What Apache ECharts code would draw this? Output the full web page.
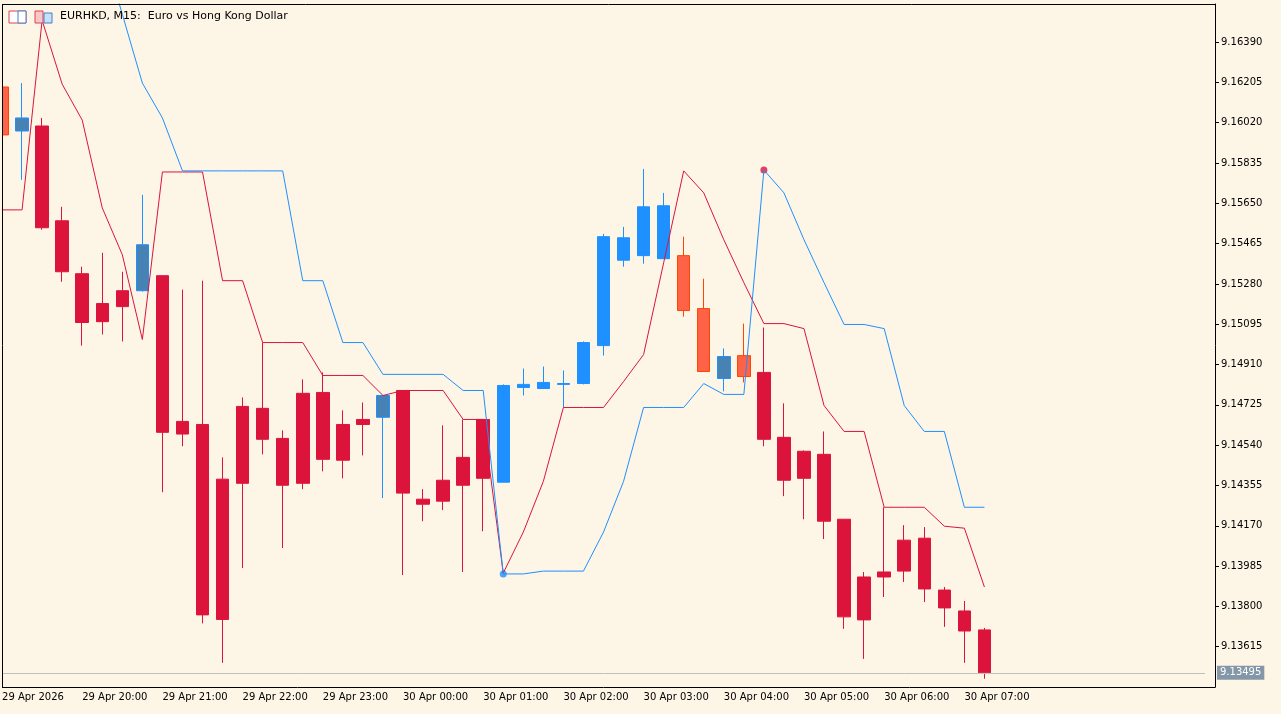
<!DOCTYPE html>
<html lang="en">
<head>
<meta charset="UTF-8">
<title>EURHKD M15</title>
<script src="https://cdn.jsdelivr.net/npm/echarts@6/dist/echarts.min.js"></script>
<style>
  html, body { margin: 0; padding: 0; background: #FDF5E6; overflow: hidden; }
  /* shifted 8px left so the first bar sits half outside the frame, as in the terminal */
  #main { position: absolute; left: -8px; top: 0; width: 1289px; height: 714px; }
</style>
</head>
<body>
<div id="main"></div>
<script>
// 15 minute bars, 29 Apr 19:00 .. 30 Apr 07:15 (plus empty space on the right)
const times = [];
for (let i = 0; i < 61; i++) {
  const m = 19 * 60 + i * 15;
  const h = Math.floor(m / 60) % 24, mm = m % 60;
  times.push((m < 24 * 60 ? '29 Apr ' : '30 Apr ') + String(h).padStart(2, '0') + ':' + String(mm).padStart(2, '0'));
}
// tick labels, one every 4 bars
const tickLabels = ['29 Apr 2026', '29 Apr 20:00', '29 Apr 21:00', '29 Apr 22:00', '29 Apr 23:00',
  '30 Apr 00:00', '30 Apr 01:00', '30 Apr 02:00', '30 Apr 03:00', '30 Apr 04:00',
  '30 Apr 05:00', '30 Apr 06:00', '30 Apr 07:00'];

const opens  = [9.16184, 9.15982, 9.16005, 9.15570, 9.15327, 9.15190, 9.15249, 9.15249, 9.15318, 9.14649,
  9.14635, 9.14384, 9.14718, 9.14709, 9.14571, 9.14778, 9.14782, 9.14635, 9.14658, 9.14668,
  9.14791, 9.14292, 9.14379, 9.14484, 9.14658, 9.14370, 9.14805, 9.14800, 9.14819, 9.14823,
  9.14997, 9.15389, 9.15410, 9.15396, 9.15410, 9.15167, 9.14846, 9.14951, 9.14874, 9.14576,
  9.14512, 9.14498, 9.14200, 9.13935, 9.13958, 9.14104, 9.14113, 9.13875, 9.13779, 9.13692];
const closes = [9.15964, 9.16042, 9.15538, 9.15336, 9.15103, 9.15107, 9.15176, 9.15460, 9.14599, 9.14591,
  9.13761, 9.13740, 9.14365, 9.14567, 9.14356, 9.14365, 9.14475, 9.14471, 9.14635, 9.14768,
  9.14320, 9.14269, 9.14283, 9.14356, 9.14388, 9.14814, 9.14819, 9.14828, 9.14823, 9.15011,
  9.15497, 9.15492, 9.15634, 9.15639, 9.15158, 9.14878, 9.14947, 9.14855, 9.14567, 9.14379,
  9.14388, 9.14191, 9.13752, 9.13738, 9.13935, 9.13962, 9.13880, 9.13793, 9.13687, 9.13495];
const lows   = [9.15941, 9.15758, 9.15529, 9.15290, 9.14997, 9.15048, 9.15016, 9.15245, 9.14324, 9.14535,
  9.13722, 9.13541, 9.13976, 9.14498, 9.14068, 9.14338, 9.14420, 9.14388, 9.14493, 9.14297,
  9.13944, 9.14191, 9.14242, 9.13958, 9.14145, 9.14370, 9.14768, 9.14800, 9.14713, 9.14819,
  9.14951, 9.15359, 9.15373, 9.15396, 9.15130, 9.14878, 9.14787, 9.14828, 9.14535, 9.14306,
  9.14200, 9.14109, 9.13697, 9.13559, 9.13843, 9.13912, 9.13820, 9.13706, 9.13541, 9.13468];
const highs  = [9.16193, 9.16202, 9.16042, 9.15634, 9.15359, 9.15423, 9.15336, 9.15689, 9.15318, 9.15254,
  9.15295, 9.14484, 9.14759, 9.15011, 9.14608, 9.14842, 9.14874, 9.14700, 9.14736, 9.14768,
  9.14791, 9.14338, 9.14631, 9.14658, 9.14658, 9.14819, 9.14892, 9.14901, 9.14883, 9.15016,
  9.15510, 9.15542, 9.15808, 9.15698, 9.15497, 9.15304, 9.14984, 9.15098, 9.15080, 9.14732,
  9.14516, 9.14603, 9.14200, 9.13958, 9.14255, 9.14173, 9.14164, 9.13889, 9.13825, 9.13701];
// candle colour kind: r = down, b = up, s = up (steel), t = down (tomato)
const kinds = ['t', 's', 'r', 'r', 'r', 'r', 'r', 's', 'r', 'r',
  'r', 'r', 'r', 'r', 'r', 'r', 'r', 'r', 'r', 's',
  'r', 'r', 'r', 'r', 'r', 'b', 'b', 'b', 'b', 'b',
  'b', 'b', 'b', 'b', 't', 't', 's', 't', 'r', 'r',
  'r', 'r', 'r', 'r', 'r', 'r', 'r', 'r', 'r', 'r'];

const redLine = [9.15620, 9.15620, 9.16490, 9.16197, 9.16032, 9.15629, 9.15414, 9.15025, 9.15794, 9.15794,
  9.15794, 9.15295, 9.15295, 9.15011, 9.15011, 9.15011, 9.14860, 9.14860, 9.14860, 9.14768,
  9.14791, 9.14791, 9.14791, 9.14658, 9.14658, 9.13953, 9.14141, 9.14374, 9.14713, 9.14713,
  9.14713, 9.14832, 9.14956, 9.15377, 9.15799, 9.15698, 9.15483, 9.15286, 9.15098, 9.15098,
  9.15075, 9.14722, 9.14603, 9.14603, 9.14255, 9.14255, 9.14255, 9.14168, 9.14159, 9.13889];
const blueLine = [null, null, null, null, null, 9.16834, 9.16518, 9.16202, 9.16042, 9.15799,
  9.15799, 9.15799, 9.15799, 9.15799, 9.15799, 9.15295, 9.15295, 9.15011, 9.15011, 9.14865,
  9.14865, 9.14865, 9.14865, 9.14791, 9.14791, 9.13949, 9.13949, 9.13962, 9.13962, 9.13962,
  9.14141, 9.14374, 9.14713, 9.14713, 9.14713, 9.14823, 9.14773, 9.14773, 9.15803, 9.15698,
  9.15483, 9.15286, 9.15094, 9.15094, 9.15075, 9.14722, 9.14603, 9.14603, 9.14255, 9.14255];
const blueDot = [25, 9.13949];
const redDot = [38, 9.15803];
const lastPrice = 9.13495;

const bodyCol = { r: '#DC143C', b: '#1E90FF', s: '#4682B4', t: '#FF6347' };
const edgeCol = { r: '#DC143C', b: '#1E90FF', s: '#1E90FF', t: '#FF4500' };

const candles = opens.map(function (o, i) {
  const k = kinds[i];
  return {
    value: [o, closes[i], lows[i], highs[i]],
    itemStyle: { color: bodyCol[k], color0: bodyCol[k], borderColor: edgeCol[k], borderColor0: edgeCol[k] }
  };
});

const myChart = echarts.init(document.getElementById('main'));
const font = 'DejaVu Sans';
const X = 8; // page x -> chart x offset
const option = {
  backgroundColor: '#FDF5E6',
  animation: false,
  grid: { left: 0, right: 66, top: 4, bottom: 27 },
  xAxis: {
    type: 'category',
    data: times,
    boundaryGap: true,
    axisLine: { lineStyle: { color: '#000', width: 1 } },
    axisTick: { alignWithLabel: true, length: 4, lineStyle: { color: '#000' },
      interval: function (i) { return i % 4 === 0; } },
    axisLabel: {
      interval: function (i) { return i % 4 === 0 && i / 4 < tickLabels.length; },
      formatter: function (v, i) { return tickLabels[i / 4] || ''; },
      align: 'left', margin: 5, color: '#000', fontFamily: font, fontSize: 10
    },
    splitLine: { show: false }
  },
  yAxis: {
    type: 'value',
    position: 'right',
    min: 9.13430, max: 9.16565, interval: 0.00185,
    axisLine: { show: true, lineStyle: { color: '#000' } },
    axisTick: { show: true, length: 4, lineStyle: { color: '#000' } },
    axisLabel: {
      showMinLabel: false, showMaxLabel: false, margin: 6,
      formatter: function (v) { return v.toFixed(5); },
      color: '#000', fontFamily: font, fontSize: 10
    },
    splitLine: { show: false }
  },
  series: [
    {
      type: 'line', data: [], symbol: 'none', silent: true, z: 1,
      markLine: {
        symbol: ['none', 'none'], silent: true, animation: false,
        data: [[{ coord: [0, lastPrice] }, { coord: [60, lastPrice] }]],
        lineStyle: { color: '#C0C0C0', type: 'solid', width: 1 },
        label: { show: true, position: 'end', distance: 12, formatter: lastPrice.toFixed(5), color: '#fff',
          backgroundColor: '#8497A8', padding: [2, 3], fontFamily: font, fontSize: 10 }
      }
    },
    { type: 'candlestick', data: candles, barWidth: 13, clip: true },
    { type: 'line', data: redLine, symbol: 'none', lineStyle: { color: '#DC143C', width: 1 }, clip: true },
    { type: 'line', data: blueLine, symbol: 'none', lineStyle: { color: '#1E90FF', width: 1 }, clip: true },
    { type: 'scatter', data: [blueDot], symbolSize: 7, itemStyle: { color: '#1E90FF' } },
    { type: 'scatter', data: [redDot], symbolSize: 7, itemStyle: { color: '#DC143C' } }
  ],
  graphic: [
    { type: 'rect', shape: { x: 0, y: 0, width: X + 2, height: 714 }, style: { fill: '#FDF5E6' }, z: 50 },
    { type: 'line', shape: { x1: X + 2.5, y1: 4, x2: X + 2.5, y2: 687 }, style: { stroke: '#000', lineWidth: 1 }, z: 51 },
    { type: 'line', shape: { x1: X + 2, y1: 4.5, x2: X + 1215, y2: 4.5 }, style: { stroke: '#000', lineWidth: 1 }, z: 51 },
    { type: 'rect', shape: { x: X + 9, y: 11, width: 17, height: 12 }, style: { fill: '#fff', stroke: '#E04050' }, z: 51 },
    { type: 'rect', shape: { x: X + 18, y: 11, width: 8, height: 12 }, style: { fill: '#fff', stroke: '#4080D0' }, z: 51 },
    { type: 'rect', shape: { x: X + 35, y: 11, width: 8, height: 12 }, style: { fill: '#F8C8C8', stroke: '#E04050' }, z: 51 },
    { type: 'rect', shape: { x: X + 44, y: 13, width: 8, height: 10 }, style: { fill: '#C8E0F8', stroke: '#4080D0' }, z: 51 },
    { type: 'text', left: X + 60, top: 11, z: 51, style: { text: 'EURHKD, M15:  Euro vs Hong Kong Dollar',
      fill: '#000', font: '11px "DejaVu Sans"' } }
  ]
};
myChart.setOption(option);
</script>
</body>
</html>
